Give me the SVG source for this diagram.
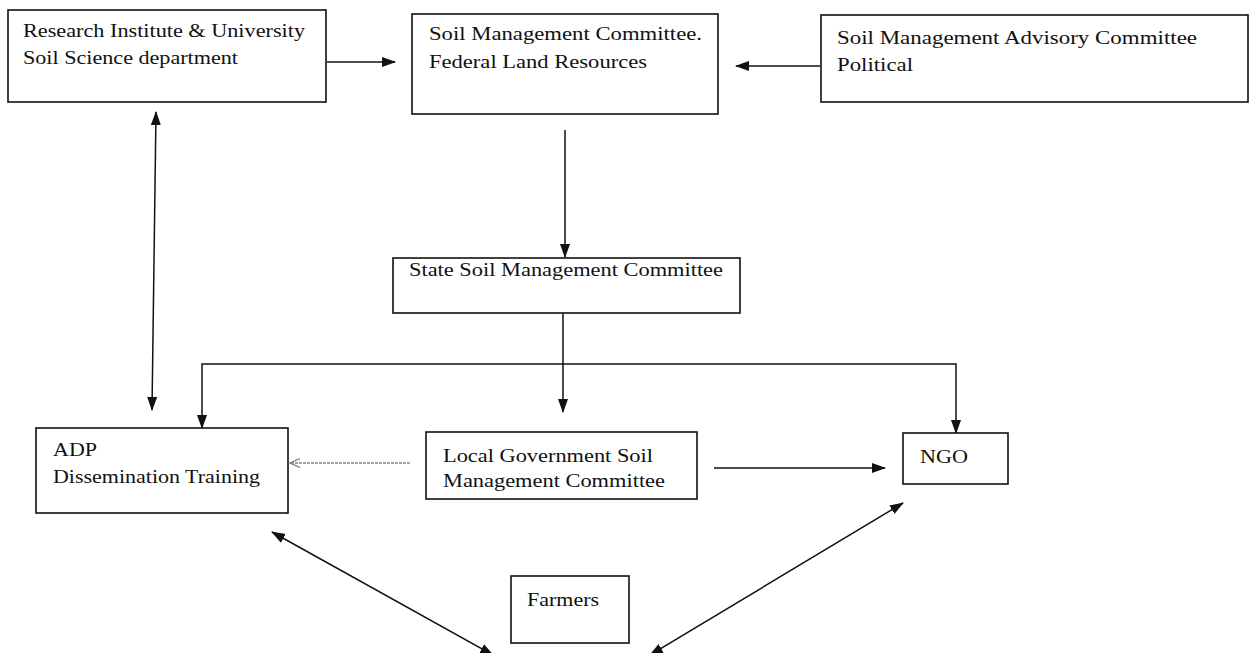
<svg xmlns="http://www.w3.org/2000/svg" width="1257" height="653" viewBox="0 0 1257 653">
<defs>
<marker id="ah" markerUnits="userSpaceOnUse" markerWidth="14" markerHeight="12" refX="13" refY="5" orient="auto-start-reverse" viewBox="0 0 14 10">
<path d="M0,0 L14,5 L0,10 Z" fill="#111"/>
</marker>
<marker id="oh" markerUnits="userSpaceOnUse" markerWidth="12" markerHeight="12" refX="11" refY="5" orient="auto" viewBox="0 0 12 10">
<path d="M1,0.5 L11,5 L1,9.5" fill="none" stroke="#777" stroke-width="1.2"/>
</marker>
<style>
.box{fill:#fff;stroke:#111;stroke-width:1.6}
.t{font-family:"Liberation Serif","Times New Roman",serif;font-size:19px;fill:#111}
.c{fill:none;stroke:#111;stroke-width:1.5}
.d{fill:none;stroke:#888;stroke-width:1.4;stroke-dasharray:3 1}
</style>
</defs>
<g id="connectors">
<line class="c" x1="327" y1="62" x2="395" y2="62" marker-end="url(#ah)"/>
<line class="c" x1="820" y1="66" x2="736" y2="66" marker-end="url(#ah)"/>
<line class="c" x1="565" y1="130" x2="565" y2="257" marker-end="url(#ah)"/>
<line class="c" x1="563" y1="313" x2="563" y2="412" marker-end="url(#ah)"/>
<polyline class="c" points="202,428 202,364 956,364 956,433" marker-start="url(#ah)" marker-end="url(#ah)"/>
<line class="c" x1="156" y1="112" x2="152" y2="410" marker-start="url(#ah)" marker-end="url(#ah)"/>
<line class="d" x1="410" y1="463" x2="290" y2="463" marker-end="url(#oh)"/>
<line class="c" x1="714" y1="468" x2="885" y2="468" marker-end="url(#ah)"/>
<line class="c" x1="272" y1="532" x2="493" y2="655" marker-start="url(#ah)" marker-end="url(#ah)"/>
<line class="c" x1="903" y1="503" x2="650" y2="655" marker-start="url(#ah)" marker-end="url(#ah)"/>
</g>
<g id="research">
<rect class="box" x="8" y="10" width="318" height="92"/>
<text class="t" x="23" y="37" textLength="282" lengthAdjust="spacingAndGlyphs">Research Institute &amp; University</text>
<text class="t" x="23" y="64" textLength="215" lengthAdjust="spacingAndGlyphs">Soil Science department</text>
</g>
<g id="federal">
<rect class="box" x="412" y="14" width="306" height="100"/>
<text class="t" x="429" y="40" textLength="273" lengthAdjust="spacingAndGlyphs">Soil Management Committee.</text>
<text class="t" x="429" y="68" textLength="218" lengthAdjust="spacingAndGlyphs">Federal Land Resources</text>
</g>
<g id="advisory">
<rect class="box" x="821" y="15" width="427" height="87"/>
<text class="t" x="837" y="44" textLength="360" lengthAdjust="spacingAndGlyphs">Soil Management Advisory Committee</text>
<text class="t" x="837" y="71" textLength="76" lengthAdjust="spacingAndGlyphs">Political</text>
</g>
<g id="state">
<rect class="box" x="393" y="258" width="347" height="55"/>
<text class="t" x="409" y="276" textLength="314" lengthAdjust="spacingAndGlyphs">State Soil Management Committee</text>
</g>
<g id="adp">
<rect class="box" x="36" y="428" width="252" height="85"/>
<text class="t" x="53" y="456" textLength="44" lengthAdjust="spacingAndGlyphs">ADP</text>
<text class="t" x="53" y="483" textLength="207" lengthAdjust="spacingAndGlyphs">Dissemination Training</text>
</g>
<g id="local">
<rect class="box" x="426" y="432" width="271" height="67"/>
<text class="t" x="443" y="462" textLength="210" lengthAdjust="spacingAndGlyphs">Local Government Soil</text>
<text class="t" x="443" y="487" textLength="222" lengthAdjust="spacingAndGlyphs">Management Committee</text>
</g>
<g id="ngo">
<rect class="box" x="903" y="433" width="105" height="51"/>
<text class="t" x="920" y="463" textLength="48" lengthAdjust="spacingAndGlyphs">NGO</text>
</g>
<g id="farmers">
<rect class="box" x="511" y="576" width="118" height="67"/>
<text class="t" x="527" y="606" textLength="72" lengthAdjust="spacingAndGlyphs">Farmers</text>
</g>
</svg>
